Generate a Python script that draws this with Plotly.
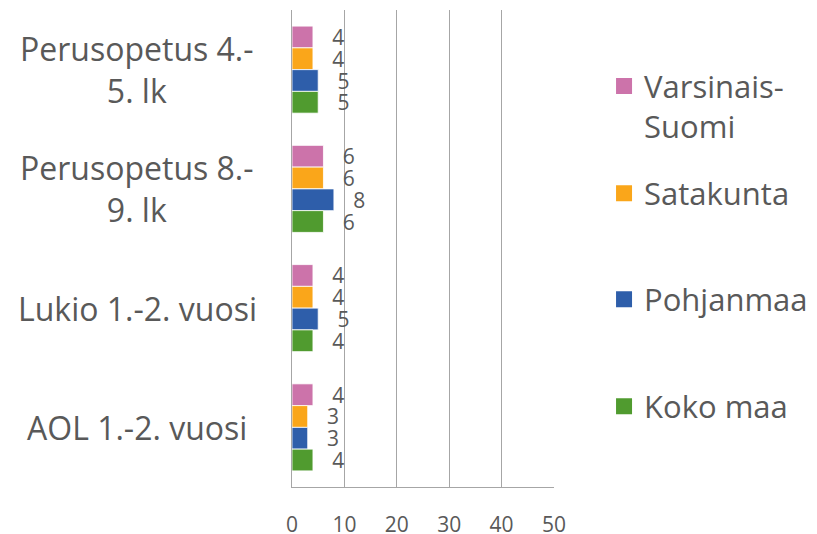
import plotly.graph_objects as go

categories = ["Perusopetus 4.-5. lk", "Perusopetus 8.-9. lk", "Lukio 1.-2. vuosi", "AOL 1.-2. vuosi"]
category_labels = ["Perusopetus 4.-<br>5. lk", "Perusopetus 8.-<br>9. lk", "Lukio 1.-2. vuosi", "AOL 1.-2. vuosi"]
series_names = ["Varsinais-Suomi", "Satakunta", "Pohjanmaa", "Koko maa"]
legend_labels = ["Varsinais-<br>Suomi", "Satakunta", "Pohjanmaa", "Koko maa"]
varsinais_suomi = [4, 6, 4, 4]
satakunta = [4, 6, 4, 3]
pohjanmaa = [5, 8, 5, 3]
koko_maa = [5, 6, 4, 4]
x_ticks = [0, 10, 20, 30, 40, 50]

values = [varsinais_suomi, satakunta, pohjanmaa, koko_maa]
colors = ["#CC73AA", "#FAA61A", "#2E5EAA", "#509B2F"]
legend_ids = ["legend", "legend2", "legend3", "legend4"]
legend_y = [0.798, 0.6153, 0.3931, 0.1688]

TXT = "#595959"
FONT = "Open Sans"

fig = go.Figure()
for name, vals, col in zip(series_names, values, colors):
    fig.add_trace(go.Bar(
        y=categories, x=vals, orientation="h", name=name,
        marker=dict(color=col, line=dict(color="white", width=0.8)),
        texttemplate="\u00a0\u00a0\u00a0%{x}", textposition="outside",
        textfont=dict(size=21, color=TXT, family=FONT),
        constraintext="none", cliponaxis=False, showlegend=False,
    ))

for lab, col, lid in zip(legend_labels, colors, legend_ids):
    fig.add_trace(go.Scatter(
        x=[None], y=[None], mode="markers", name=lab,
        marker=dict(symbol="square", size=21, color=col),
        showlegend=True, legend=lid,
    ))

annotations = []
for cat, lab in zip(categories, category_labels):
    annotations.append(dict(
        x=-0.5916, xref="paper", y=cat, yref="y", text=lab, showarrow=False,
        xanchor="center", yanchor="middle", align="center",
        font=dict(size=32, color=TXT, family=FONT),
    ))

layout = dict(
    width=817, height=534,
    margin=dict(l=292, r=263, t=10, b=47, autoexpand=False),
    paper_bgcolor="white", plot_bgcolor="white",
    barmode="group", bargap=0.27, bargroupgap=0,
    font=dict(family=FONT, color=TXT),
    xaxis=dict(range=[0, 50], tickvals=x_ticks, showgrid=True, gridcolor="#A6A6A6",
               gridwidth=1.3, zeroline=False, showline=True, linecolor="#A6A6A6", linewidth=1.3,
               tickfont=dict(size=21, color=TXT, family=FONT), ticklabelstandoff=19, fixedrange=True),
    yaxis=dict(categoryorder="array", categoryarray=categories, range=[3.5, -0.5],
               showticklabels=False, showgrid=False, zeroline=False, showline=True,
               linecolor="#A6A6A6", linewidth=1.3, fixedrange=True),
    annotations=annotations,
)
for lid, ly in zip(legend_ids, legend_y):
    layout[lid] = dict(
        x=1.191, xanchor="left", y=ly, yanchor="middle",
        font=dict(size=31, color=TXT, family=FONT),
        valign="top", bgcolor="rgba(0,0,0,0)", itemsizing="trace",
    )

fig.update_layout(**layout)
fig.write_html("out.html", config={"displayModeBar": False},
               post_script="document.body.style.margin='0';")
